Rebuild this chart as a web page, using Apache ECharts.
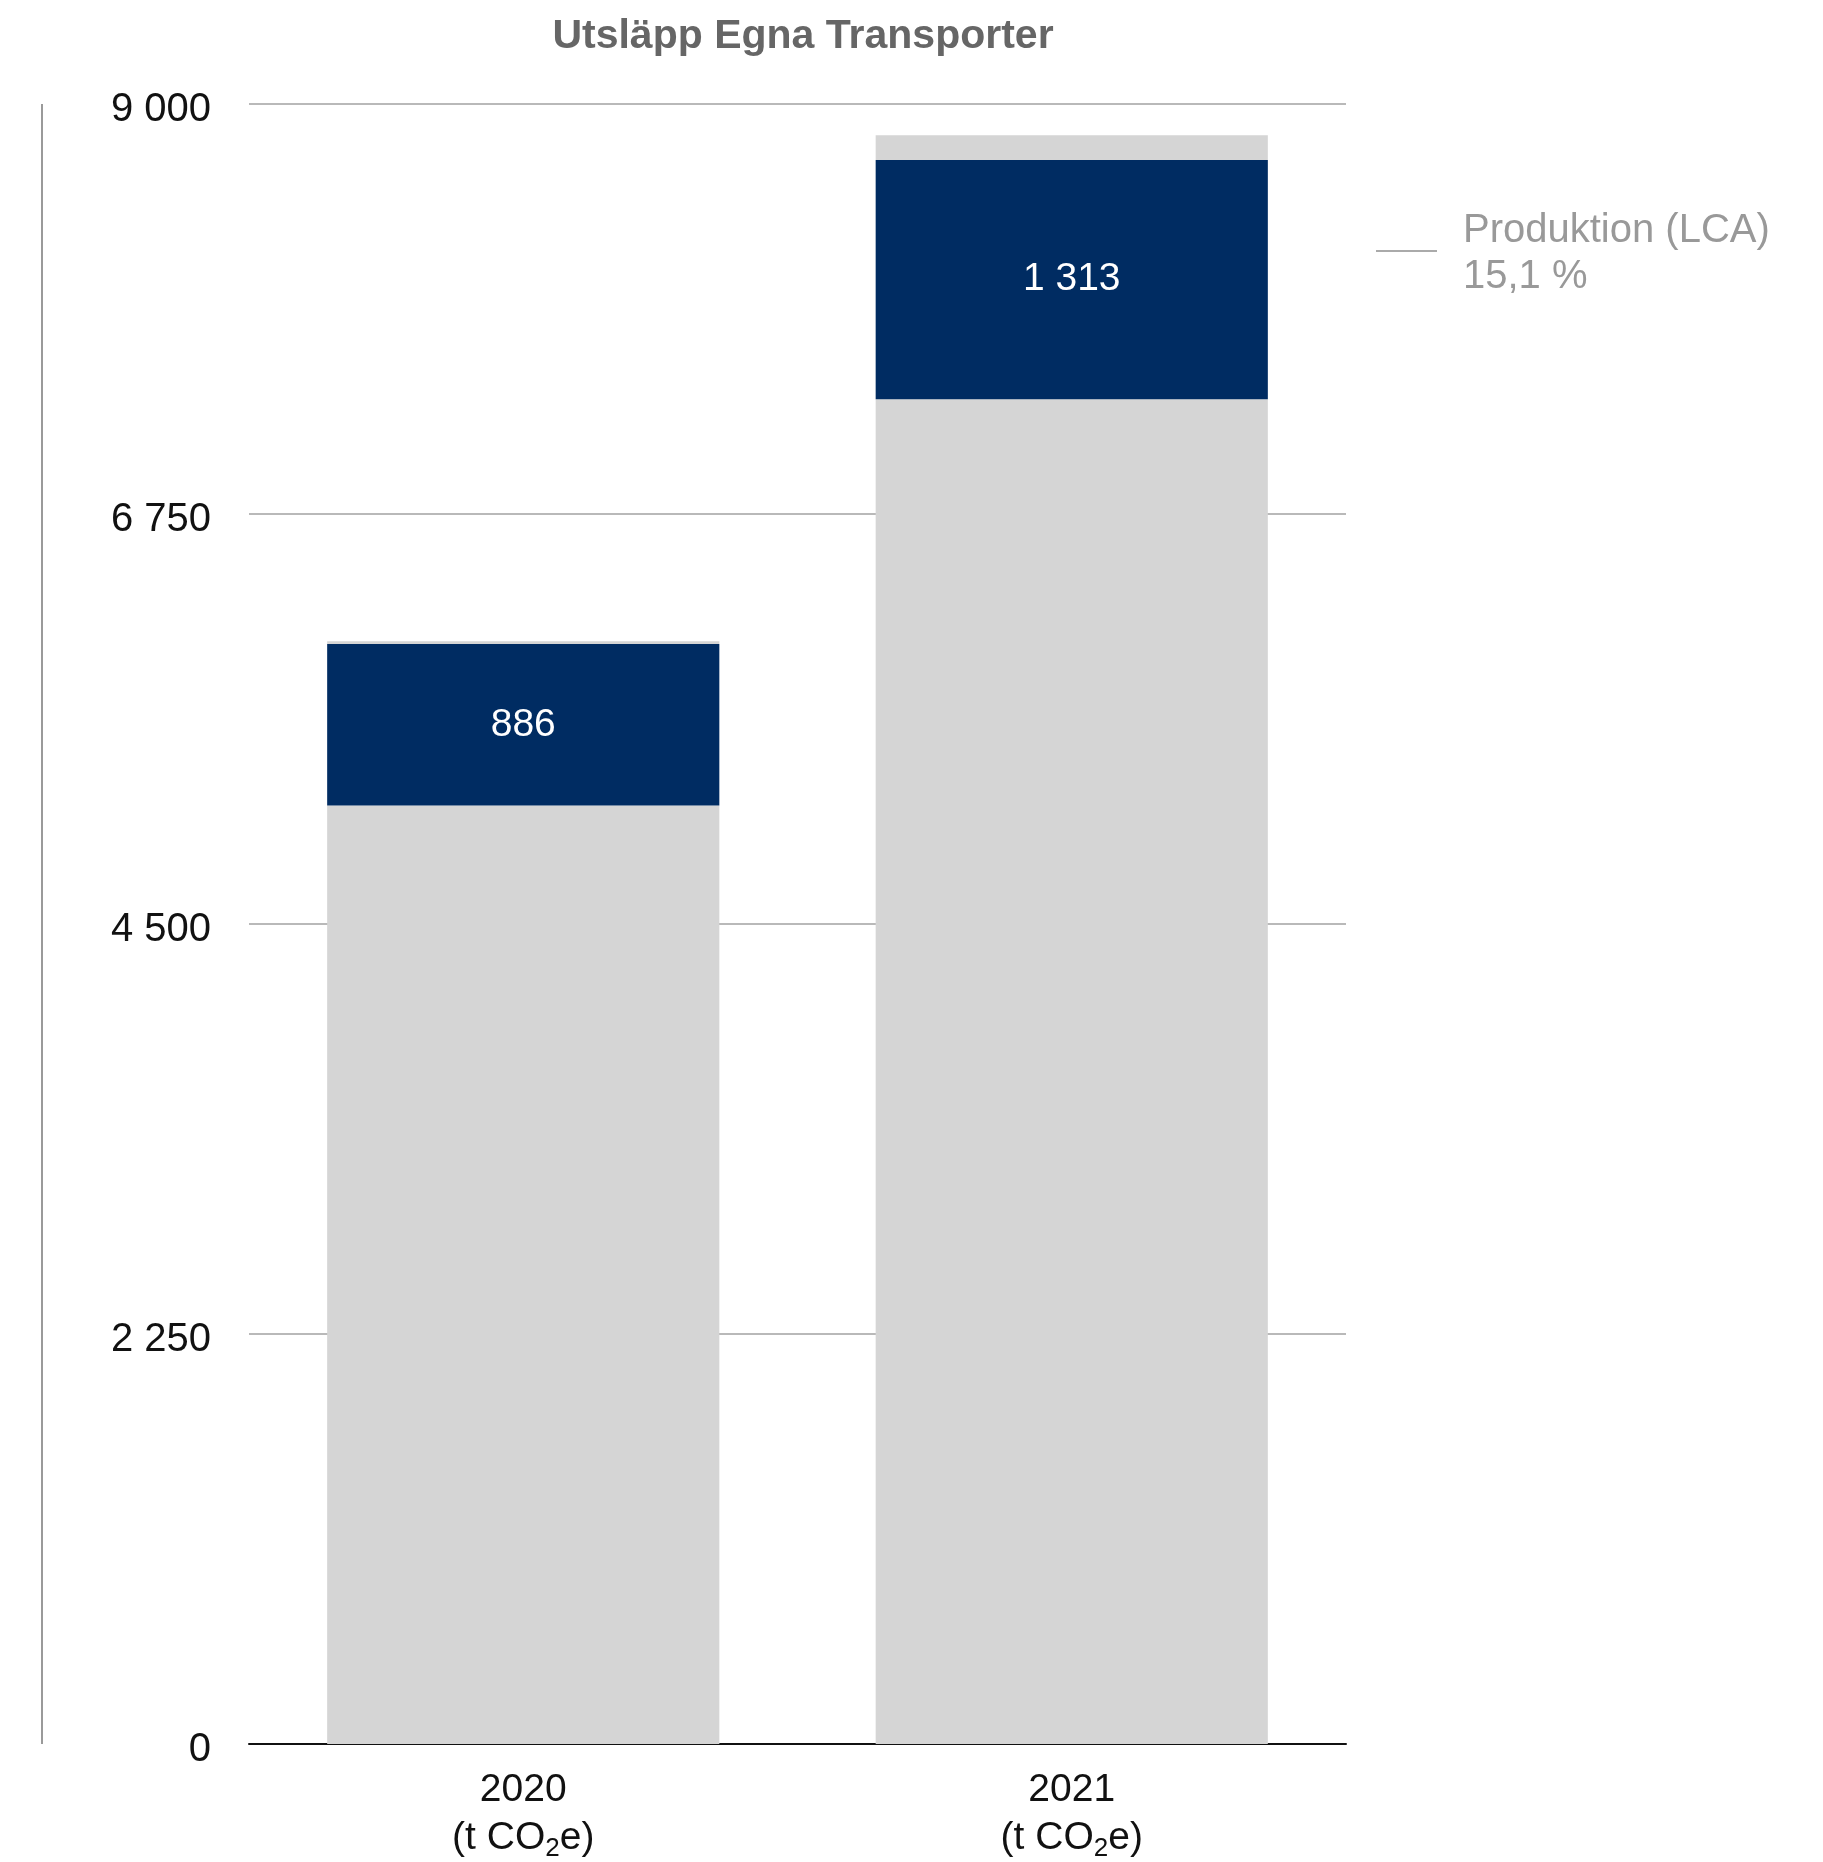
<!DOCTYPE html>
<html>
<head>
<meta charset="utf-8">
<script src="https://cdn.jsdelivr.net/npm/echarts@6/dist/echarts.min.js"></script>
<style>
html,body{margin:0;padding:0;background:#fff;}
#chart{width:1823px;height:1862px;}
</style>
</head>
<body>
<div id="chart"></div>
<script>
const categories = ['2020', '2021'];
const unitLabel = 't CO';
const baseValues = [5150, 7380];      // light grey, lower part
const lcaValues = [886, 1313];        // dark blue segment
const topValues = [15, 135];          // light grey, top sliver
const yTicks = { min: 0, max: 9000, interval: 2250 };
const titleText = 'Utsläpp Egna Transporter';
const noteLines = ['Produktion (LCA)', '15,1 %'];

const FONT = '"Liberation Sans", Arial, Helvetica, sans-serif';
const GREY = '#d5d5d5';
const BLUE = '#002c62';

function fmt(v) {
  return String(v).replace(/\B(?=(\d{3})+(?!\d))/g, ' ');
}

const chart = echarts.init(document.getElementById('chart'));
chart.setOption({
  animation: false,
  backgroundColor: '#ffffff',
  title: {
    text: titleText,
    left: 798,
    textAlign: 'center',
    top: 11,
    textStyle: { fontFamily: FONT, fontSize: 41, fontWeight: 'bold', color: '#666666' }
  },
  grid: { left: 249, right: 477, top: 104, bottom: 118, containLabel: false },
  xAxis: {
    type: 'category',
    data: categories,
    axisLine: { show: true, lineStyle: { color: '#111111', width: 2 } },
    axisTick: { show: false },
    axisLabel: {
      margin: 22,
      interval: 0,
      formatter: function (v) { return '{a|' + v + '}\n{a|(' + unitLabel + '}{s|2}{a|e)}'; },
      rich: {
        a: { fontFamily: FONT, fontSize: 39, color: '#111111', lineHeight: 48 },
        s: { fontFamily: FONT, fontSize: 26, color: '#111111', lineHeight: 26, verticalAlign: 'bottom' }
      }
    }
  },
  yAxis: {
    type: 'value',
    min: yTicks.min,
    max: yTicks.max,
    interval: yTicks.interval,
    axisLine: { show: false },
    axisTick: { show: false },
    splitLine: { show: true, lineStyle: { color: '#b9b9b9', width: 2 } },
    axisLabel: {
      margin: 38,
      fontFamily: FONT,
      fontSize: 40,
      color: '#111111',
      verticalAlign: 'top',
      lineHeight: 12,
      formatter: fmt
    }
  },
  series: [
    {
      type: 'bar', stack: 'total', data: baseValues, barWidth: '71.5%',
      itemStyle: { color: GREY }, silent: true
    },
    {
      type: 'bar', stack: 'total', data: lcaValues, barWidth: '71.5%',
      itemStyle: { color: BLUE },
      label: {
        show: true, position: 'inside', color: '#ffffff',
        fontFamily: FONT, fontSize: 39, fontWeight: 'normal',
        padding: [4, 0, 0, 0],
        formatter: function (p) { return fmt(p.value); }
      }
    },
    {
      type: 'bar', stack: 'total', data: topValues, barWidth: '71.5%',
      itemStyle: { color: GREY }
    }
  ],
  graphic: [
    {
      type: 'line',
      shape: { x1: 42, y1: 104, x2: 42, y2: 1744 },
      style: { stroke: '#9a9a9a', lineWidth: 2 }
    },
    {
      type: 'line',
      shape: { x1: 1376, y1: 251, x2: 1437, y2: 251 },
      style: { stroke: '#aaaaaa', lineWidth: 2 }
    },
    {
      type: 'text',
      left: 1463,
      top: 208,
      style: {
        text: noteLines.join('\n'),
        fontFamily: FONT,
        fontSize: 40,
        lineHeight: 46,
        fill: '#999999'
      }
    }
  ]
});
</script>
</body>
</html>
